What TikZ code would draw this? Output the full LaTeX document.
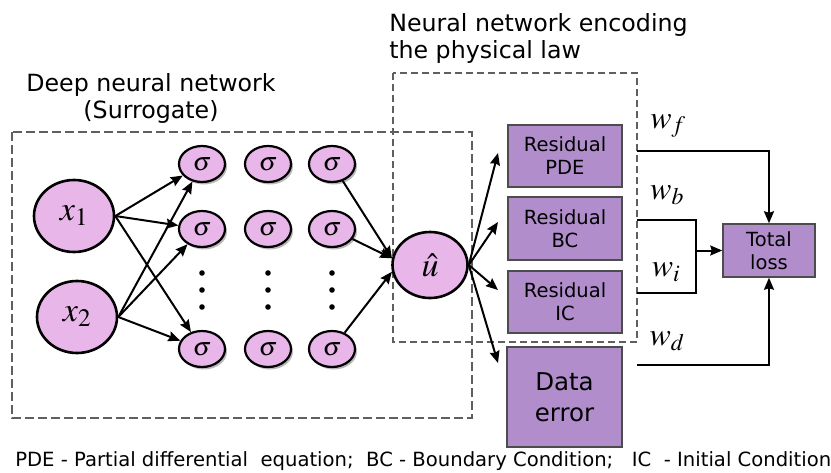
\documentclass[tikz,border=0pt]{standalone}
\usepackage{mathptmx}
\usepackage{fontspec}
\setmainfont{DejaVu Sans}
\usetikzlibrary{shapes,arrows.meta,shadows}

\definecolor{neuronfill}{RGB}{232,182,232}
\definecolor{lossfill}{RGB}{177,142,203}
\definecolor{regiongray}{RGB}{95,95,95}

\begin{document}
\begin{tikzpicture}[x=1pt,y=-1pt,->,>={Stealth[length=12pt,width=10pt,inset=1.5pt]},line width=2pt]
\tikzstyle{neuron}=[ellipse,draw=black,line width=2.6pt,fill=neuronfill,inner sep=0pt,font=\fontsize{34}{34}\selectfont]
\tikzstyle{hidden}=[neuron,minimum width=46pt,minimum height=36pt,line width=2.2pt,font=\fontsize{26}{26}\selectfont,
  drop shadow={shadow xshift=2pt,shadow yshift=-2.5pt,opacity=0.55}]
\tikzstyle{residual}=[rectangle,draw=black!70,line width=1.5pt,fill=lossfill,inner sep=0pt,align=center,
  minimum width=114pt,font=\fontsize{19.5}{23}\selectfont]
\tikzstyle{region}=[-,draw=regiongray,line width=1.9pt,dash pattern=on 9pt off 4pt]
\tikzstyle{weight}=[font=\fontsize{32}{32}\selectfont]
\useasboundingbox (0,0) rectangle (831,472);

% dashed regions: surrogate net and physics part
\draw[region] (12,132) rectangle (472,418);
\draw[region,line width=1.5pt,dash pattern=on 7pt off 4pt] (393,73) rectangle (637,342);

\node[align=center,font=\fontsize{23.7}{27}\selectfont] (surtitle) at (151,98) {Deep neural network\\(Surrogate)};
\node[align=left,anchor=west,font=\fontsize{23.7}{27}\selectfont] (lawtitle) at (385,38) {Neural network encoding\\the physical law};

% inputs
\node[neuron,minimum width=80pt,minimum height=72pt] (x1) at (74,216) {$x_1$};
\node[neuron,minimum width=80pt,minimum height=72pt] (x2) at (77,317) {$x_2$};

% hidden layers
\foreach \c/\x in {1/202,2/268,3/332}{
  \foreach \r/\y in {1/164,2/229,4/349}
    \node[hidden] (h\c\r) at (\x,\y) {$\sigma$};
  \foreach \y in {273,290,307}
    \fill (\x,\y) circle (2.8pt);
}

% output
\node[neuron,minimum width=75pt,minimum height=66pt] (uhat) at (430,265) {$\hat{u}$};

% loss terms
\node[residual,minimum height=62pt] (pde) at (565,156) {Residual\\PDE};
\node[residual,minimum height=63pt] (bc) at (565,228.5) {Residual\\BC};
\node[residual,minimum height=62pt] (ic) at (565,302) {Residual\\IC};
\node[residual,minimum height=100pt,minimum width=115pt,font=\fontsize{24.5}{31}\selectfont] (data) at (564.5,397) {Data\\error};
\node[residual,minimum width=92pt,minimum height=53pt] (total) at (769,250.5) {Total\\loss};

\foreach \i in {x1,x2}
  \foreach \r in {1,2,4}
    \draw (\i.east) -- (h1\r);
\draw (h31) -- (uhat.170);
\draw (h32) -- (uhat.170);
\draw (h34) -- (uhat.190);

\coordinate (tpde) at (498,153);
\coordinate (tbc) at (498,222);
\coordinate (tic) at (498,290);
\coordinate (tdata) at (498,363);
\foreach \t in {tpde,tbc,tic,tdata}
  \draw (uhat.east) -- (\t);

% weighted sum into the total loss
\coordinate (opde) at (637,151);
\coordinate (obc) at (637,220);
\coordinate (oic) at (637,293);
\coordinate (odata) at (637,365);
\coordinate (join) at (696,250.5);
\draw (opde) -| (total.north);
\draw[-] (obc) -| (join) |- (oic);
\draw (join) -- (total.west);
\draw (odata) -| (total.south);

\node[weight] (wf) at (668,126) {$w_f$};
\node[weight] (wb) at (667,195) {$w_b$};
\node[weight] (wi) at (666,272) {$w_i$};
\node[weight] (wd) at (667,341) {$w_d$};

\node[anchor=west,font=\fontsize{19.6}{22}\selectfont] (legend) at (11,461)
  {PDE - Partial differential\ \ equation;\ \ BC - Boundary Condition;\ \ \ IC\ \ - Initial Condition};
\end{tikzpicture}
\end{document}
